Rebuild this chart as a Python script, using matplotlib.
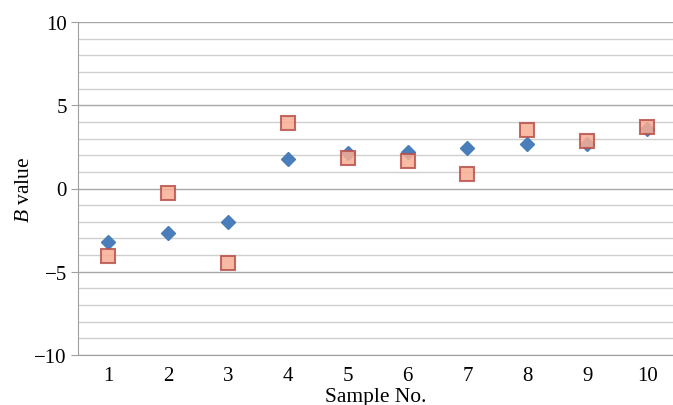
import matplotlib
matplotlib.use('Agg')
import matplotlib.pyplot as plt
from matplotlib.ticker import MultipleLocator

plt.rcParams['font.family'] = 'Liberation Serif'
plt.rcParams['mathtext.fontset'] = 'custom'
plt.rcParams['mathtext.it'] = 'Liberation Serif:italic'
plt.rcParams['mathtext.rm'] = 'Liberation Serif'

samples = [1, 2, 3, 4, 5, 6, 7, 8, 9, 10]
b_blue = [-3.2, -2.65, -2.0, 1.75, 2.15, 2.2, 2.45, 2.65, 2.65, 3.55]
b_red = [-4.05, -0.3, -4.45, 3.95, 1.85, 1.65, 0.9, 3.5, 2.85, 3.7]
y_ticks = [-10, -5, 0, 5, 10]
y_labels = ['\u221210', '\u22125', '0', '5', '10']

fig = plt.figure(figsize=(6.73, 4.06), dpi=100)
ax = fig.add_axes([78/673, 1 - 356/406, 1 - 78/673, 333/406])

ax.plot(samples, b_blue, linestyle='none', marker='D', ms=7.5,
        color='#4a7ebb', mec='#4a7ebb', zorder=3)
ax.plot(samples, b_red, linestyle='none', marker='s', ms=9.5,
        mfc='#f9ae94', mec='#b9524c', mew=1.5, alpha=0.85, zorder=4)

ax.set_xlim(0.5, 10.43)
ax.set_ylim(-10, 10)
ax.set_xticks(samples)
ax.set_yticks(y_ticks)
ax.set_yticklabels(y_labels)
ax.yaxis.set_minor_locator(MultipleLocator(1))

ax.grid(which='major', axis='y', color='#a8a8a8', lw=1.0)
ax.grid(which='minor', axis='y', color='#d0d0d0', lw=1.0)
ax.set_axisbelow(True)

for s in ['top', 'right']:
    ax.spines[s].set_visible(False)
ax.spines['left'].set_color('#a0a0a0')
ax.spines['bottom'].set_color('#a0a0a0')
ax.tick_params(axis='y', which='major', length=5, color='#a0a0a0', labelsize=15, pad=3)
ax.tick_params(axis='y', which='minor', length=0)
ax.tick_params(axis='x', length=0, labelsize=15, pad=8)

ax.set_xlabel('Sample No.', fontsize=15.5, labelpad=1.5)
ax.set_ylabel(r'$B$ value', fontsize=15.5, labelpad=0)

fig.savefig('out.png', dpi=100)
